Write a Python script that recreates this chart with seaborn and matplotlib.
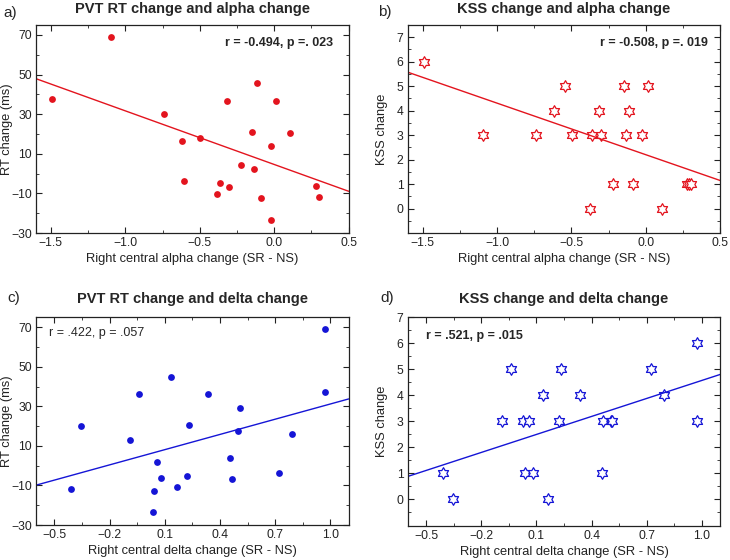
import numpy as np
import pandas as pd
import matplotlib
matplotlib.use("Agg")
import matplotlib.pyplot as plt
import seaborn as sns
from matplotlib.path import Path
from matplotlib.ticker import MultipleLocator

# Panel a: alpha change vs PVT RT change
alpha_a = [-1.495, -1.096, -0.743, -0.622, -0.496, -0.608, -0.367, -0.382, -0.306, -0.320, -0.221,
           -0.147, -0.136, -0.116, -0.089, -0.024, -0.024, 0.012, 0.106, 0.278, 0.301]
rt_a = [37.5, 69, 29.9, 16.3, 18, -3.6, -5, -10.4, -6.7, 36.7, 4.4,
        21, 2.1, 45.9, -12.5, 13.7, -23.4, 36.7, 20.5, -6.2, -11.8]

# Panel b: alpha change vs KSS change
alpha_b = [-1.490, -1.094, -0.740, -0.619, -0.546, -0.494, -0.375, -0.364, -0.315, -0.302, -0.221,
           -0.149, -0.134, -0.116, -0.089, -0.026, 0.012, 0.108, 0.276, 0.289, 0.303]
kss_b = [6, 3, 3, 4, 5, 3, 0, 3, 4, 3, 1,
         5, 3, 4, 1, 3, 5, 0, 1, 1, 1]

# Panel c: delta change vs PVT RT change
delta_c = [-0.357, -0.412, -0.089, -0.038, 0.038, 0.042, 0.056, 0.078, 0.132, 0.165, 0.219,
           0.232, 0.335, 0.455, 0.467, 0.500, 0.509, 0.719, 0.794, 0.971, 0.971]
rt_c = [20.1, -12, 13.2, 36, -23.6, -12.6, 1.9, -6.4, 45, -10.8, -5.4,
        20.6, 36, 4.1, -6.9, 17.6, 29.4, -3.8, 16, 69, 37]

# Panel d: delta change vs KSS change
delta_d = [-0.410, -0.355, -0.089, -0.038, 0.029, 0.038, 0.058, 0.080, 0.134, 0.163, 0.221,
           0.234, 0.337, 0.455, 0.464, 0.505, 0.513, 0.721, 0.794, 0.971, 0.971]
kss_d = [1, 0, 3, 5, 3, 1, 3, 1, 4, 0, 3,
         5, 4, 1, 3, 3, 3, 5, 4, 6, 3]

titles = ["PVT RT change and alpha change", "KSS change and alpha change",
          "PVT RT change and delta change", "KSS change and delta change"]
letters = ["a)", "b)", "c)", "d)"]
stats = ["r = -0.494, p =. 023", "r = -0.508, p =. 019",
         "r = .422, p = .057", "r = .521, p = .015"]
xlabel_alpha = "Right central alpha change (SR - NS)"
xlabel_delta = "Right central delta change (SR - NS)"

RED = "#e3141e"
BLUE = "#1515d6"

sns.set_style("ticks")
plt.rcParams["font.family"] = ["Liberation Sans", "DejaVu Sans"]
plt.rcParams.update({
    "xtick.direction": "in", "ytick.direction": "in",
    "xtick.top": True, "ytick.right": True,
    "xtick.major.size": 4, "ytick.major.size": 4,
    "xtick.minor.size": 2.5, "ytick.minor.size": 2.5,
    "xtick.major.pad": 3, "ytick.major.pad": 3,
    "axes.edgecolor": "#222222", "axes.linewidth": 0.9,
    "xtick.color": "#222222", "ytick.color": "#222222",
    "xtick.labelsize": 8.7, "ytick.labelsize": 8.7,
})

# six-pointed star (hexagram) outline marker
ang = np.deg2rad(90 + 30 * np.arange(12))
rad = np.where(np.arange(12) % 2 == 0, 1.0, 1 / np.sqrt(3))
verts = np.column_stack([rad * np.cos(ang), rad * np.sin(ang)])
verts = np.vstack([verts, verts[:1]])
hexagram = Path(verts, [Path.MOVETO] + [Path.LINETO] * 11 + [Path.CLOSEPOLY])

fig = plt.figure(figsize=(7.3, 5.6), dpi=100)
W, H = 730, 560
boxes = [(36, 25, 348.7, 233), (407.7, 25, 720.3, 233),
         (36, 317.3, 348.7, 525), (407.7, 317.3, 720.3, 525.5)]
axes = []
for (l, t, r, b) in boxes:
    axes.append(fig.add_axes([l / W, 1 - b / H, (r - l) / W, (b - t) / H]))

panels = [
    (alpha_a, rt_a, RED, "o", "RT change (ms)", xlabel_alpha),
    (alpha_b, kss_b, RED, hexagram, "KSS change", xlabel_alpha),
    (delta_c, rt_c, BLUE, "o", "RT change (ms)", xlabel_delta),
    (delta_d, kss_d, BLUE, hexagram, "KSS change", xlabel_delta),
]

for i, (ax, (xv, yv, col, mk, ylab, xlab)) in enumerate(zip(axes, panels)):
    df = pd.DataFrame({"x": xv, "y": yv})
    if i < 2:
        ax.set_xlim(-1.6, 0.5)
        ax.xaxis.set_major_locator(MultipleLocator(0.5))
        ax.xaxis.set_minor_locator(MultipleLocator(0.25))
    else:
        ax.set_xlim(-0.6, 1.1)
        ax.set_xticks(np.arange(-0.5, 1.01, 0.3))
        ax.set_xticks(np.arange(-0.5, 1.09, 0.15), minor=True)
        ax.set_xticklabels([f"{v:.1f}".replace("-", "\u2212") for v in np.arange(-0.5, 1.01, 0.3)])
    if i in (0, 2):
        ax.set_ylim(-30, 75)
        ax.set_yticks(np.arange(-30, 71, 20))
        ax.set_yticks(np.arange(-30, 75, 10), minor=True)
    else:
        ax.set_ylim(-1, 7.5 if i == 1 else 7)
        ax.set_yticks(np.arange(0, 8, 1))
        ax.set_yticks(np.arange(-1, 7.4, 0.5), minor=True)

    if mk == "o":
        skw = dict(s=24, alpha=1, linewidths=0, color=col)
    else:
        skw = dict(s=70, alpha=1, facecolors="white", edgecolors=col, linewidths=0.9)
    sns.regplot(data=df, x="x", y="y", ax=ax, ci=None, truncate=False, marker=mk,
                color=col, scatter_kws=skw, line_kws=dict(lw=1, color=col))
    ax.set_xlabel(xlab, fontsize=9.3, color="#222222", labelpad=3)
    ax.set_ylabel(ylab, fontsize=9.3, color="#222222")
    ax.yaxis.set_label_coords(-0.074 if i in (0, 2) else -0.063, 0.5)
    ax.set_title(titles[i], fontsize=10.5, fontweight="bold", pad=9 if i < 2 else 10.5)

# panel letters
fig.text(3 / W, 1 - 13 / H, letters[0], fontsize=11, va="center")
fig.text(378 / W, 1 - 12 / H, letters[1], fontsize=11, va="center")
fig.text(7 / W, 1 - 298 / H, letters[2], fontsize=11, va="center")
fig.text(380 / W, 1 - 298 / H, letters[3], fontsize=11, va="center")

# correlation annotations
axes[0].text(0.95, 0.913, stats[0], transform=axes[0].transAxes, ha="right", va="center",
             fontsize=9, fontweight="bold")
axes[1].text(0.96, 0.912, stats[1], transform=axes[1].transAxes, ha="right", va="center",
             fontsize=9, fontweight="bold")
axes[2].text(0.042, 0.924, stats[2], transform=axes[2].transAxes, ha="left", va="center",
             fontsize=9)
axes[3].text(0.058, 0.91, stats[3], transform=axes[3].transAxes, ha="left", va="center",
             fontsize=9, fontweight="bold")

fig.savefig("out.png", dpi=100)
